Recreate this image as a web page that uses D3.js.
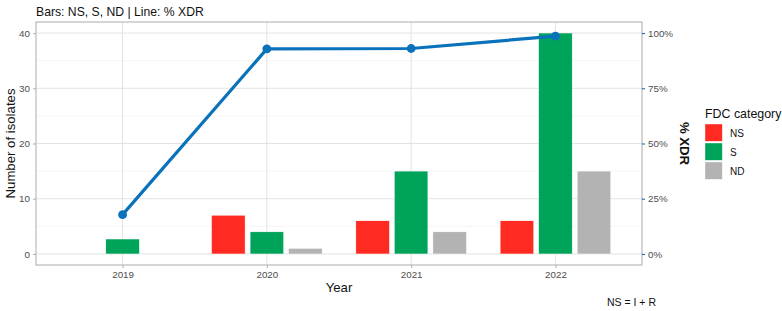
<!DOCTYPE html>
<html>
<head>
<meta charset="utf-8">
<script src="https://cdn.jsdelivr.net/npm/d3@7"></script>
<style>
  body { margin: 0; background: #fff; }
  text { font-family: "Liberation Sans", Arial, sans-serif; }
</style>
</head>
<body>
<div id="chart"></div>
<script>
// data
var years = ["2019", "2020", "2021", "2022"];
var categories = ["NS", "S", "ND"];
var nsCounts = [0, 7, 6, 6];
var sCounts = [2.7, 4, 15, 40];
var ndCounts = [0, 1, 4, 15];
var xdrPct = [0.178, 0.928, 0.93, 0.986];
var yTicks = [0, 10, 20, 30, 40];
var pctTicks = [0, 0.25, 0.5, 0.75, 1];

var colors = { NS: "#ff2a22", S: "#00a35a", ND: "#b3b3b3" };
var lineColor = "#0a72ba";

var width = 782, height = 311;
var margin = { top: 22, right: 140, bottom: 46, left: 36 };
var pw = width - margin.left - margin.right;   // panel width
var ph = height - margin.top - margin.bottom;  // panel height

var svg = d3.select("#chart").append("svg")
  .attr("width", width)
  .attr("height", height);

var g = svg.append("g")
  .attr("transform", "translate(" + margin.left + "," + margin.top + ")");

// x: discrete years, ggplot style 0.6 expansion
var x = d3.scalePoint().domain(years).range([0, pw]).padding(0.6);
var step = x.step();

// y: counts 0-40 with 5% expansion, % axis shares the same space
var y = d3.scaleLinear().domain([-2, 42]).range([ph, 0]);
var yPct = d3.scaleLinear().domain([-0.05, 1.05]).range([ph, 0]);

// grid
var minor = [5, 15, 25, 35];
g.selectAll(".minor").data(minor).enter().append("line")
  .attr("x1", 0).attr("x2", pw)
  .attr("y1", d => y(d)).attr("y2", d => y(d))
  .attr("stroke", "#f0f0f0").attr("stroke-width", 0.6);
g.selectAll(".hgrid").data(yTicks).enter().append("line")
  .attr("x1", 0).attr("x2", pw)
  .attr("y1", d => y(d)).attr("y2", d => y(d))
  .attr("stroke", "#e3e3e3").attr("stroke-width", 1);
g.selectAll(".vgrid").data(years).enter().append("line")
  .attr("y1", 0).attr("y2", ph)
  .attr("x1", d => x(d)).attr("x2", d => x(d))
  .attr("stroke", "#e3e3e3").attr("stroke-width", 1);

// bars (dodged)
var barW = step * 0.232, off = step * 0.267;
var rows = [];
years.forEach(function(yr, i) {
  rows.push({ year: yr, cat: "NS", v: nsCounts[i], k: -1 });
  rows.push({ year: yr, cat: "S", v: sCounts[i], k: 0 });
  rows.push({ year: yr, cat: "ND", v: ndCounts[i], k: 1 });
});
g.selectAll(".bar").data(rows.filter(d => d.v > 0)).enter().append("rect")
  .attr("x", d => x(d.year) + d.k * off - barW / 2)
  .attr("width", barW)
  .attr("y", d => y(d.v))
  .attr("height", d => y(0) - y(d.v))
  .attr("fill", d => colors[d.cat])
  .attr("stroke", "#fff").attr("stroke-width", 0.4);

// line % XDR
var line = d3.line().x((d, i) => x(years[i])).y(d => yPct(d));
g.append("path").datum(xdrPct)
  .attr("d", line)
  .attr("fill", "none")
  .attr("stroke", lineColor)
  .attr("stroke-width", 3.2);
g.selectAll(".pt").data(xdrPct).enter().append("circle")
  .attr("cx", (d, i) => x(years[i]))
  .attr("cy", d => yPct(d))
  .attr("r", 4.4)
  .attr("fill", lineColor);

// panel border
g.append("rect")
  .attr("width", pw).attr("height", ph)
  .attr("fill", "none").attr("stroke", "#b3b3b3").attr("stroke-width", 1.1);

// axes
function styleAxis(sel, tickColor) {
  sel.select(".domain").remove();
  sel.selectAll(".tick line").attr("stroke", tickColor).attr("stroke-width", 1.1);
  sel.selectAll(".tick text")
    .attr("fill", "#4d4d4d")
    .style("font-size", "9.8px")
    .style("font-family", "Liberation Sans, Arial, sans-serif");
}
g.append("g").attr("transform", "translate(0," + ph + ")")
  .call(d3.axisBottom(x).tickSize(3).tickPadding(3))
  .call(styleAxis, "#b3b3b3");
g.append("g")
  .call(d3.axisLeft(y).tickValues(yTicks).tickSize(3).tickPadding(3))
  .call(styleAxis, "#b3b3b3");
g.append("g").attr("transform", "translate(" + pw + ",0)")
  .call(d3.axisRight(yPct).tickValues(pctTicks).tickFormat(d3.format(".0%")).tickSize(3).tickPadding(3))
  .call(styleAxis, lineColor);

// titles
svg.append("text")
  .attr("x", margin.left).attr("y", 16)
  .style("font-size", "12.2px").attr("fill", "#111")
  .text("Bars: NS, S, ND | Line: % XDR");

svg.append("text")
  .attr("x", margin.left + pw / 2).attr("y", 292)
  .attr("text-anchor", "middle")
  .style("font-size", "13.2px").attr("fill", "#111")
  .text("Year");

svg.append("text")
  .attr("transform", "translate(15," + (margin.top + ph / 2) + ") rotate(-90)")
  .attr("text-anchor", "middle")
  .style("font-size", "13.2px").attr("fill", "#111")
  .text("Number of isolates");

svg.append("text")
  .attr("transform", "translate(680," + (margin.top + ph / 2) + ") rotate(90)")
  .attr("text-anchor", "middle")
  .style("font-size", "13.2px").style("font-weight", "bold").attr("fill", "#111")
  .text("% XDR");

svg.append("text")
  .attr("x", 656).attr("y", 306)
  .attr("text-anchor", "end")
  .style("font-size", "10.5px").attr("fill", "#111")
  .text("NS = I + R");

// legend
var lg = svg.append("g").attr("transform", "translate(705,107)");
lg.append("text").attr("x", 0).attr("y", 11)
  .style("font-size", "12.4px").attr("fill", "#111")
  .text("FDC category");
var keys = lg.selectAll(".key").data(categories).enter().append("g")
  .attr("transform", (d, i) => "translate(0," + (17 + i * 19) + ")");
keys.append("rect")
  .attr("width", 17.3).attr("height", 17.3)
  .attr("fill", d => colors[d])
  .attr("stroke", "#fff").attr("stroke-width", 0.4);
keys.append("text")
  .attr("x", 25).attr("y", 12.5)
  .style("font-size", "10px").attr("fill", "#111")
  .text(d => d);
</script>
</body>
</html>
